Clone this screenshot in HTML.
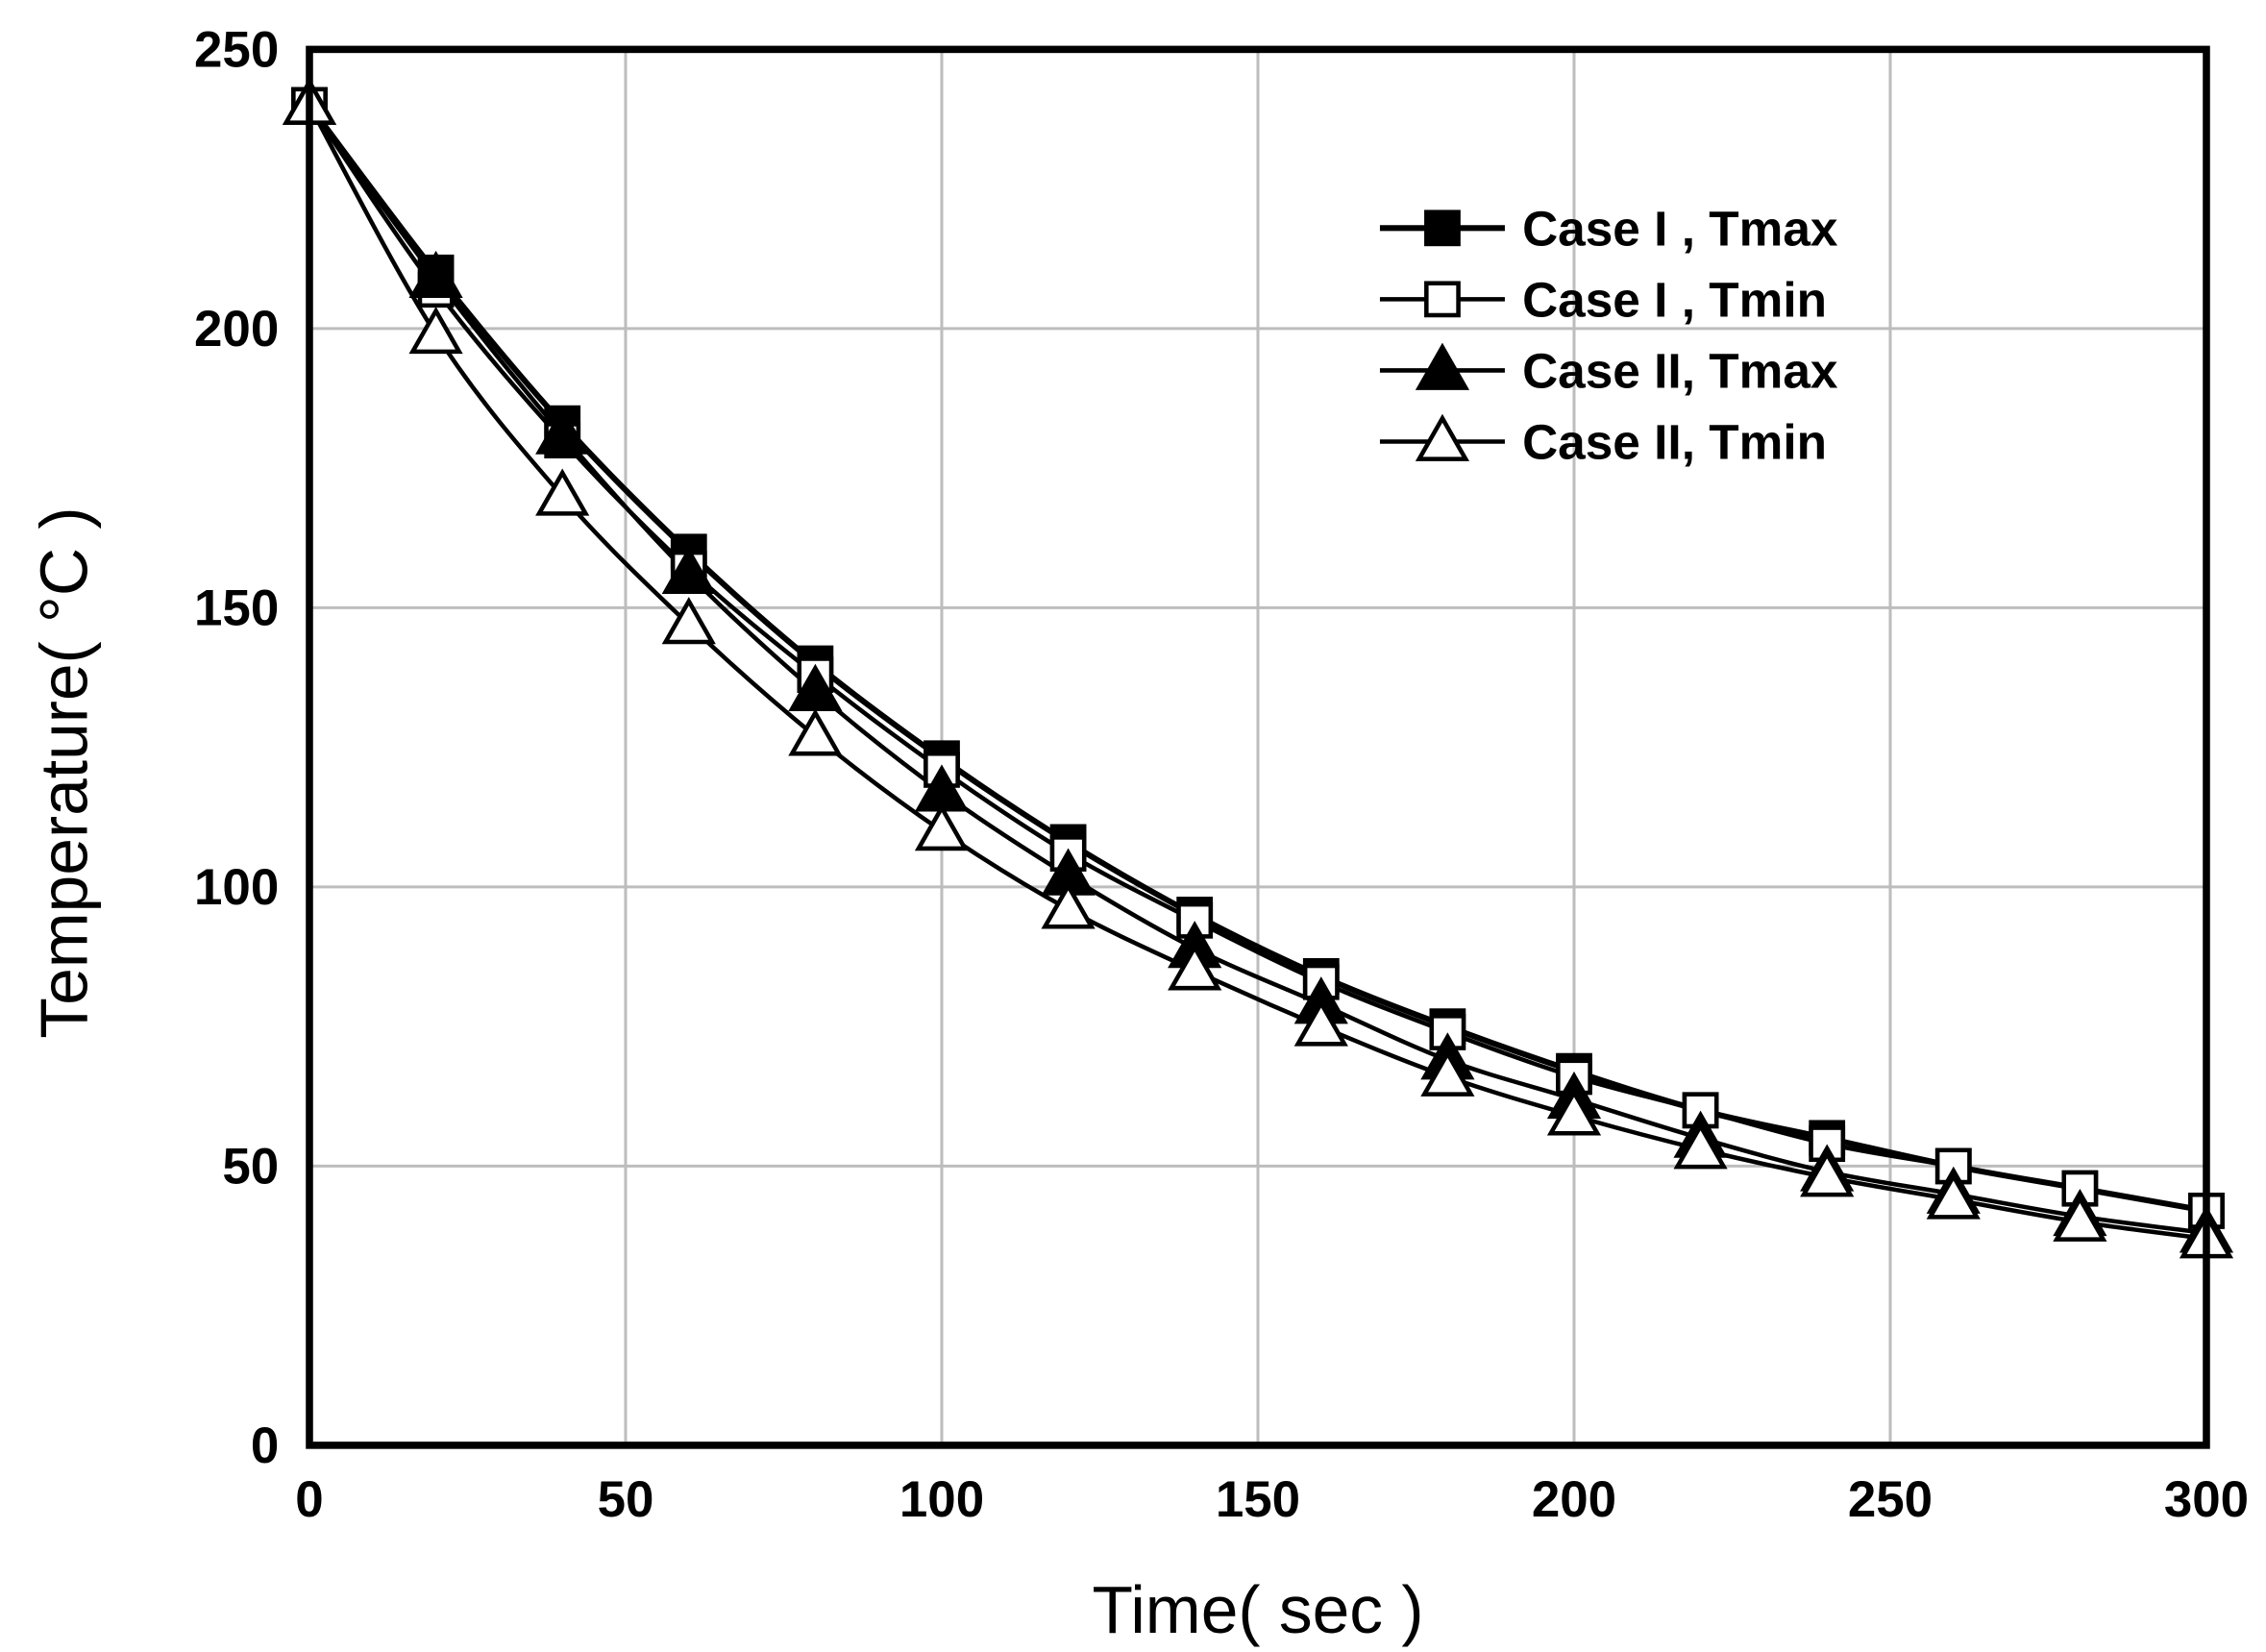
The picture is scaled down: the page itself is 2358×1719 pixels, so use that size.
<!DOCTYPE html>
<html><head><meta charset="utf-8"><style>html,body{margin:0;padding:0;background:#fff}svg{display:block}</style></head>
<body>
<svg id="s" width="2358" height="1719" viewBox="0 0 1560 1137.3" xmlns="http://www.w3.org/2000/svg" font-family="Liberation Sans, Arial, sans-serif">
<rect width="1560" height="1138" fill="#fff"/>
<g id="grid" stroke="#bdbdbd" stroke-width="2"></g>
<g id="series"></g>
<rect x="213" y="34" width="1306" height="961" fill="none" stroke="#000" stroke-width="5"/>
<g id="ticks" font-weight="bold" font-size="35" fill="#000" transform="scale(1,1)"></g>
<text x="866" y="1124" text-anchor="middle" font-size="46">Time( sec )</text>
<text transform="translate(60,532) rotate(-90)" text-anchor="middle" font-size="46">Temperature( °C )</text>
<g id="legend" font-weight="bold" font-size="34"></g>
</svg>
<script>
const L=213,R=1519,T=34,B=995;
const X=v=>L+(R-L)*v/300, Y=v=>B-(B-T)*v/250;
const ns="http://www.w3.org/2000/svg";
function el(p,t,a,txt){const e=document.createElementNS(ns,t);for(const k in a)e.setAttribute(k,a[k]);if(txt!==undefined)e.textContent=txt;document.getElementById(p).appendChild(e);return e;}
for(let v=50;v<300;v+=50)el('grid','line',{x1:X(v),x2:X(v),y1:T,y2:B});
for(let v=50;v<250;v+=50)el('grid','line',{x1:L,x2:R,y1:Y(v),y2:Y(v)});
for(let v=0;v<=300;v+=50)el('ticks','text',{x:X(v),y:1044,'text-anchor':'middle'},v);
for(let v=0;v<=250;v+=50)el('ticks','text',{x:192,y:Y(v)+12,'text-anchor':'end'},v);
const xs=[0,20,40,60,80,100,120,140,160,180,200,220,240,260,280,300];
const S=[
 {d:[240,210,183,160,140,123,108,95,84,75,67,60,55,50,46,42],m:'sq',f:'#000',w:4},
 {d:[240,207,180,157,138,121,106,94,83,74,66,60,54,50,46,42],m:'sq',f:'#fff',w:3},
 {d:[240,209,181,156,135,117,102,89,79,69,62,55,49,45,41,38],m:'tr',f:'#000',w:3},
 {d:[240,199,170,147,127,110,96,85,75,66,59,53,48,44,40,37],m:'tr',f:'#fff',w:3}];
function marker(g,m,x,y,f){
 if(m==='sq')el(g,'rect',{x:x-11,y:y-11,width:22,height:22,fill:f,stroke:'#000','stroke-width':3});
 else el(g,'polygon',{points:`${x},${y-16} ${x+16},${y+12} ${x-16},${y+12}`,fill:f,stroke:'#000','stroke-width':3});
}
function smooth(p){let d=`M${p[0][0]},${p[0][1]}`;for(let i=0;i<p.length-1;i++){const p0=p[i-1]||p[i],p1=p[i],p2=p[i+1],p3=p[i+2]||p2;
 d+=` C${p1[0]+(p2[0]-p0[0])/6},${p1[1]+(p2[1]-p0[1])/6} ${p2[0]-(p3[0]-p1[0])/6},${p2[1]-(p3[1]-p1[1])/6} ${p2[0]},${p2[1]}`;}return d;}
S.forEach(s=>{
 el('series','path',{d:smooth(xs.map((x,i)=>[X(x),Y(s.d[i])])),fill:'none',stroke:'#000','stroke-width':s.w});
});
S.forEach(s=>xs.forEach((x,i)=>marker('series',s.m,X(x),Y(s.d[i]),s.f)));
const labs=['Case I , Tmax','Case I , Tmin','Case II, Tmax','Case II, Tmin'];
S.forEach((s,i)=>{const y=157+i*49;
 el('legend','line',{x1:950,x2:1036,y1:y,y2:y,stroke:'#000','stroke-width':s.w});
 marker('legend',s.m,993,y,s.f);
 el('legend','text',{x:1048,y:y+12},labs[i]);});
</script>
</body></html>
